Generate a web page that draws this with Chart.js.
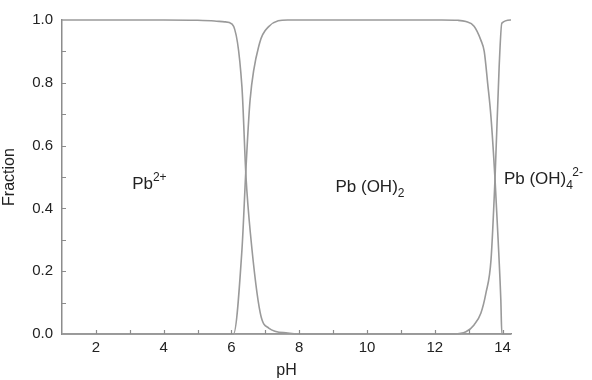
<!DOCTYPE html>
<html>
<head>
<meta charset="utf-8">
<script src="https://cdn.jsdelivr.net/npm/chart.js@4.4.1/dist/chart.umd.min.js"></script>
<style>
	body {margin: 0; background: #fff;}
	canvas {display: block;}
</style>
</head>
<body>
<canvas id="species" width="592" height="380"></canvas>
<script>
// pH points and fractions, one pair of arrays per species
const phPb = [1, 4, 5, 5.5, 5.8, 6.02, 6.31, 6.43, 6.56, 6.85, 7.1, 7.66, 8, 14.25]
const fracPb = [1, 1, 0.999, 0.997, 0.994, 0.987, 0.787, 0.5, 0.32, 0.067, 0.019, 0.003, 0, 0]

const phPbOH2 = [1, 6.06, 6.31, 6.43, 6.55, 6.83, 7.1, 7.66, 12.2, 12.68, 12.92, 13.16, 13.36, 13.46, 13.56, 13.66, 13.78, 13.87, 13.95, 13.98, 14.25]
const fracPbOH2 = [0, 0, 0.268, 0.53, 0.745, 0.926, 0.979, 1, 1, 0.999, 0.995, 0.98, 0.936, 0.9, 0.8, 0.69, 0.49, 0.3, 0.108, 0, 0]

const phPbOH4 = [1, 12.57, 12.92, 13.16, 13.36, 13.51, 13.66, 13.78, 13.9, 13.98, 14.25]
const fracPbOH4 = [0, 0, 0.007, 0.029, 0.066, 0.13, 0.236, 0.5, 0.85, 0.99, 1]

// every unit gets a tick mark, only the even ones a label
const xTickMarks = [1, 2, 3, 4, 5, 6, 7, 8, 9, 10, 11, 12, 13, 14]
const xTicks = [2, 4, 6, 8, 10, 12, 14]
const yTickMarks = [0, 0.1, 0.2, 0.3, 0.4, 0.5, 0.6, 0.7, 0.8, 0.9, 1.0]
const yTicks = [0, 0.2, 0.4, 0.6, 0.8, 1.0]

const lineColor = '#9a9a9a'
const axisColor = '#8c8c8c'
const textColor = '#222'
const family = '"Liberation Sans", Arial, Helvetica, sans-serif'

function points(xs, ys) {
	return xs.map((x, i) => ({x, y: ys[i]}))
}

function series(xs, ys) {
	return {
		data: points(xs, ys),
		showLine: true,
		borderColor: lineColor,
		borderWidth: 1.6,
		pointRadius: 0,
		cubicInterpolationMode: 'monotone',
		clip: 4,
	}
}

// species names, placed in data units, with sub/superscripts
const speciesLabels = [
	{x: 3.07, y: 0.462, parts: [['Pb', 0], ['2+', 1]]},
	{x: 9.07, y: 0.452, parts: [['Pb (OH)', 0], ['2', -1]]},
	{x: 14.04, y: 0.478, parts: [['Pb (OH)', 0], ['4', -1], ['2-', 1]]},
]

const speciesText = {
	id: 'speciesText',
	afterDraw(chart) {
		const {ctx, scales: {x, y}} = chart
		ctx.save()
		ctx.fillStyle = textColor
		ctx.textBaseline = 'alphabetic'
		ctx.textAlign = 'left'
		for (const label of speciesLabels) {
			let px = x.getPixelForValue(label.x)
			const py = y.getPixelForValue(label.y)
			let lastSub = null
			for (const [text, shift] of label.parts) {
				ctx.font = (shift ? 12 : 17) + 'px ' + family
				const dy = shift > 0 ? -8 : shift < 0 ? 5 : 0
				if (shift > 0 && lastSub !== null) px -= lastSub * 0.1
				ctx.fillText(text, px, py + dy)
				const w = ctx.measureText(text).width
				px += w
				lastSub = shift < 0 ? w : null
			}
		}
		ctx.restore()
	},
}

// short tick marks pointing into the plot, as in the original
const innerTicks = {
	id: 'innerTicks',
	afterDraw(chart) {
		const {ctx, chartArea, scales: {x, y}} = chart
		ctx.save()
		ctx.strokeStyle = axisColor
		ctx.lineWidth = 1.2
		ctx.beginPath()
		for (const v of xTickMarks) {
			if (v === 1) continue
			const px = Math.round(x.getPixelForValue(v)) + 0.5
			ctx.moveTo(px, chartArea.bottom)
			ctx.lineTo(px, chartArea.bottom - 4)
		}
		for (const v of yTickMarks) {
			if (v === 0 || v === 1) continue
			const py = Math.round(y.getPixelForValue(v)) + 0.5
			ctx.moveTo(chartArea.left, py)
			ctx.lineTo(chartArea.left + 4, py)
		}
		ctx.stroke()
		ctx.restore()
	},
}

new Chart(document.getElementById('species'), {
	type: 'scatter',
	data: {
		datasets: [
			series(phPb, fracPb),
			series(phPbOH2, fracPbOH2),
			series(phPbOH4, fracPbOH4),
		],
	},
	options: {
		responsive: false,
		animation: false,
		events: [],
		layout: {padding: {top: 20, right: 81, left: 0, bottom: 0}},
		plugins: {
			legend: {display: false},
			tooltip: {enabled: false},
		},
		scales: {
			x: {
				type: 'linear',
				min: 1,
				max: 14.25,
				afterBuildTicks: scale => { scale.ticks = xTicks.map(value => ({value})) },
				afterFit: scale => { scale.height = 46 },
				grid: {drawOnChartArea: false, drawTicks: false},
				border: {color: axisColor, width: 1.5},
				ticks: {
					autoSkip: false,
					maxRotation: 0,
					padding: 5,
					color: textColor,
					font: {family, size: 15},
				},
				title: {
					display: true,
					text: 'pH',
					color: textColor,
					font: {family, size: 16},
					padding: {top: 0, bottom: 0},
				},
			},
			y: {
				min: 0,
				max: 1,
				afterBuildTicks: scale => { scale.ticks = yTicks.map(value => ({value})) },
				afterFit: scale => { scale.width = 62 },
				grid: {drawOnChartArea: false, drawTicks: false},
				border: {color: axisColor, width: 1.5},
				ticks: {
					autoSkip: false,
					padding: 9,
					color: textColor,
					font: {family, size: 15},
					callback: v => v.toFixed(1),
				},
				title: {
					display: true,
					text: 'Fraction',
					color: textColor,
					font: {family, size: 16},
					padding: {top: 0, bottom: 7},
				},
			},
		},
	},
	plugins: [innerTicks, speciesText],
})
</script>
</body>
</html>
